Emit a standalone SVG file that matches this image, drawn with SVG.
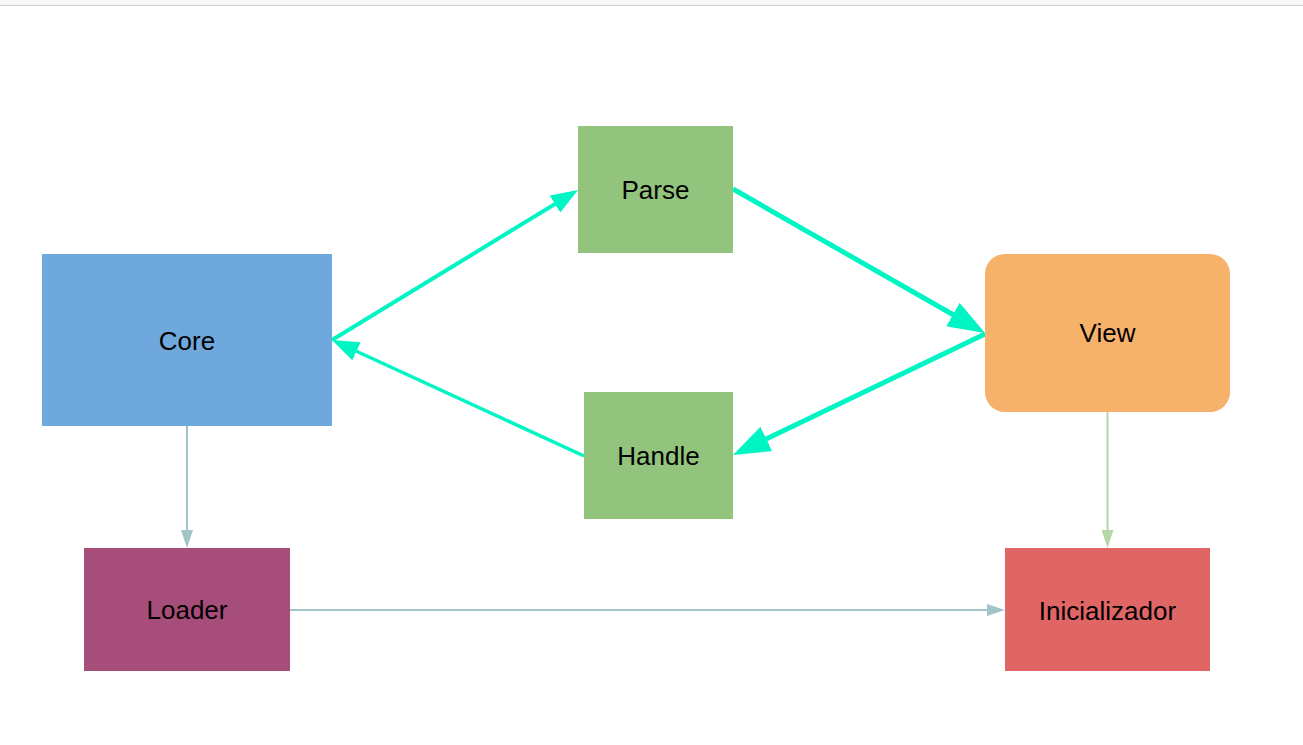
<svg xmlns="http://www.w3.org/2000/svg" width="1303" height="745" viewBox="0 0 1303 745">
  <style>
    .label { font-family: "Liberation Sans", Arial, sans-serif; font-size: 26px; fill: #000000; text-anchor: middle; }
    .main { fill: none; stroke: #00f5c4; }
    .thin { fill: none; stroke-width: 2; }
  </style>
  <defs>
    <marker id="arrowBig" markerUnits="userSpaceOnUse" markerWidth="37" markerHeight="27" refX="29" refY="13.5" orient="auto">
      <path d="M0,0 L37,13.5 L0,27 z" fill="#00f5c4"/>
    </marker>
    <marker id="arrowMid" markerUnits="userSpaceOnUse" markerWidth="27" markerHeight="20" refX="21" refY="10" orient="auto">
      <path d="M0,0 L27,10 L0,20 z" fill="#00f5c4"/>
    </marker>
    <marker id="arrowBlue" markerUnits="userSpaceOnUse" markerWidth="18" markerHeight="12" refX="14" refY="6" orient="auto">
      <path d="M0,0 L18,6 L0,12 z" fill="#a2c4c9"/>
    </marker>
    <marker id="arrowGreen" markerUnits="userSpaceOnUse" markerWidth="18" markerHeight="12" refX="14" refY="6" orient="auto">
      <path d="M0,0 L18,6 L0,12 z" fill="#b6d7a8"/>
    </marker>
  </defs>
  <rect x="0" y="0" width="1303" height="745" fill="#ffffff"/>
  <rect x="0" y="0" width="1303" height="5" fill="#f7f8fa"/>
  <line x1="0" y1="5.5" x2="1303" y2="5.5" stroke="#cfcfcf" stroke-width="1"/>

  <g id="connectors">
    <line class="main" x1="332" y1="340" x2="572.9" y2="193.1" stroke-width="4" marker-end="url(#arrowMid)"/>
    <line class="main" x1="733" y1="189" x2="978.1" y2="329" stroke-width="5" marker-end="url(#arrowBig)"/>
    <line class="main" x1="985" y1="334" x2="740.2" y2="451.5" stroke-width="5" marker-end="url(#arrowBig)"/>
    <line class="main" x1="584" y1="456" x2="337.4" y2="342.5" stroke-width="3.5" marker-end="url(#arrowMid)"/>
    <line class="thin" x1="187" y1="426" x2="187" y2="544" stroke="#a2c4c9" marker-end="url(#arrowBlue)"/>
    <line class="thin" x1="290" y1="610" x2="1001" y2="610" stroke="#a2c4c9" marker-end="url(#arrowBlue)"/>
    <line class="thin" x1="1107.5" y1="412" x2="1107.5" y2="544" stroke="#b6d7a8" marker-end="url(#arrowGreen)"/>
  </g>

  <g id="core">
    <rect x="42" y="254" width="290" height="172" fill="#6fa8dc"/>
    <text class="label" x="187" y="349.5">Core</text>
  </g>
  <g id="parse">
    <rect x="578" y="126" width="155" height="127" fill="#93c47d"/>
    <text class="label" x="655.5" y="199">Parse</text>
  </g>
  <g id="handle">
    <rect x="584" y="392" width="149" height="127" fill="#93c47d"/>
    <text class="label" x="658.5" y="465">Handle</text>
  </g>
  <g id="view">
    <rect x="985" y="254" width="245" height="158" rx="20" ry="20" fill="#f6b26b"/>
    <text class="label" x="1107.5" y="342">View</text>
  </g>
  <g id="loader">
    <rect x="84" y="548" width="206" height="123" fill="#a64d79"/>
    <text class="label" x="187" y="619">Loader</text>
  </g>
  <g id="inicializador">
    <rect x="1005" y="548" width="205" height="123" fill="#e06666"/>
    <text class="label" x="1107.5" y="620">Inicializador</text>
  </g>
</svg>
